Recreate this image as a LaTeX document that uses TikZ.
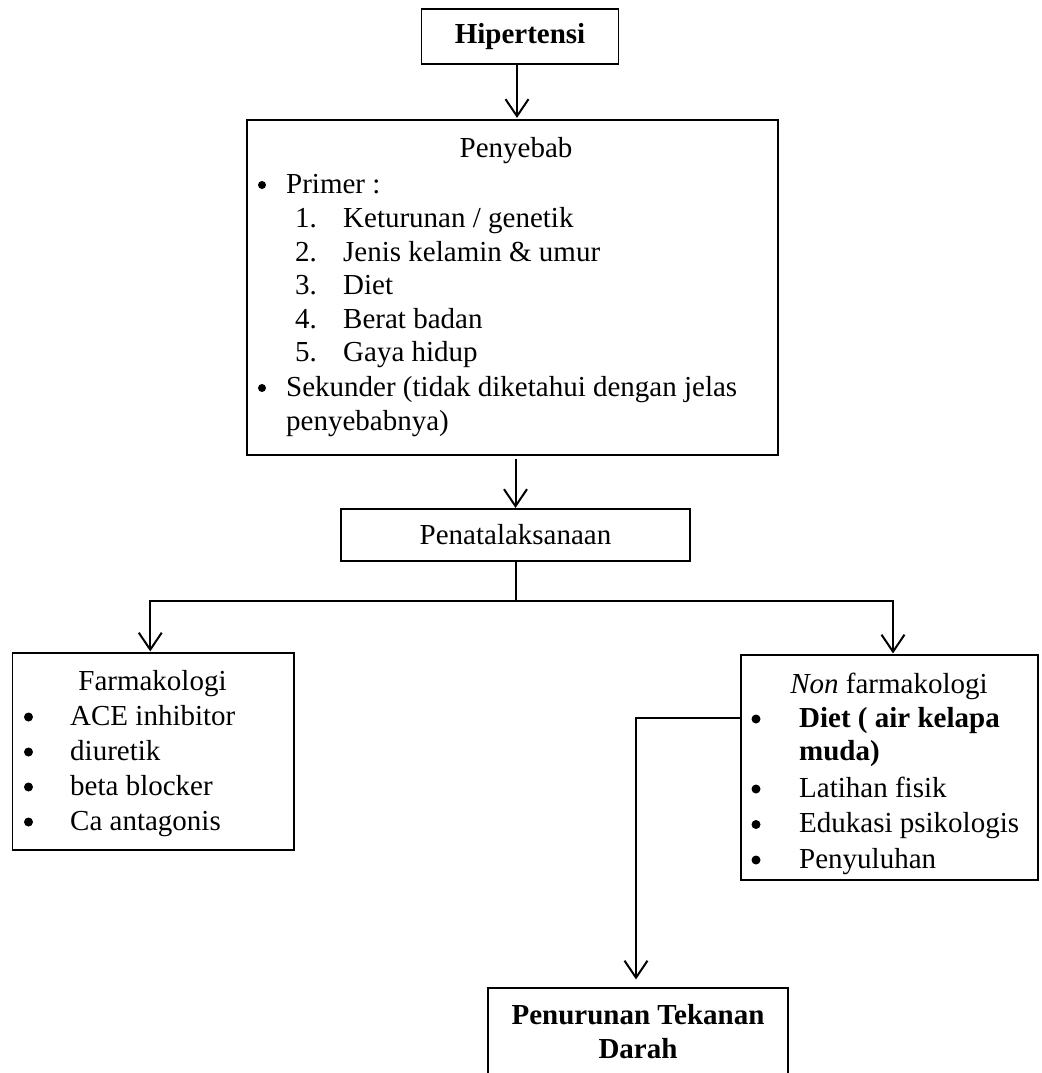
\documentclass[tikz,border=0pt]{standalone}
\usepackage{fontspec}
\setmainfont{Liberation Serif}
\usetikzlibrary{arrows.meta}
\begin{document}
\begin{tikzpicture}[x=1pt,y=-1pt,
  every node/.style={inner sep=0pt, font=\fontsize{29}{33.5}\selectfont},
  box/.style={draw, line width=1.1pt},
  txt/.style={anchor=base west},
  ctxt/.style={anchor=base},
  dot/.style={circle, fill=black, minimum size=9pt, yshift=8pt},
  conn/.style={line width=2pt},
  arr/.style={conn, -{Straight Barb[length=17pt,width=23pt]}}]
\clip (0,0) rectangle (1041,1073);
\fill[white] (0,0) rectangle (1041,1073);
% boxes
\node[box, minimum width=197pt, minimum height=55pt, font=\fontsize{29}{33.5}\selectfont\bfseries] (hip) at (520,36.5) {Hipertensi};
\node[box, minimum width=531pt, minimum height=335pt] (peny) at (512.5,287.5) {};
\node[box, minimum width=349pt, minimum height=52pt] (pena) at (515.5,535) {Penatalaksanaan};
\node[box, minimum width=281.5pt, minimum height=197pt] (farm) at (153.25,751.5) {};
\node[box, minimum width=297pt, minimum height=225pt] (non) at (889.5,767.5) {};
\node[box, minimum width=300pt, minimum height=110pt] (pen) at (638,1043) {};
% Penyebab text
\node[ctxt] (pyt) at (516,157) {Penyebab};
\node[dot, minimum size=8pt] (pb1) at (262,193) {};
\node[txt] (pp) at (286,193) {Primer :};
\node[txt] (n1) at (295,227) {1.};
\node[txt] (i1) at (343,227) {Keturunan / genetik};
\node[txt] (n2) at (295,261) {2.};
\node[txt] (i2) at (343,261) {Jenis kelamin \& umur};
\node[txt] (n3) at (295,294.5) {3.};
\node[txt] (i3) at (343,294.5) {Diet};
\node[txt] (n4) at (295,328) {4.};
\node[txt] (i4) at (343,328) {Berat badan};
\node[txt] (n5) at (295,361.5) {5.};
\node[txt] (i5) at (343,361.5) {Gaya hidup};
\node[dot, minimum size=8pt] (pb2) at (262,396) {};
\node[txt] (ps) at (286,396) {Sekunder (tidak diketahui dengan jelas};
\node[txt] (ps2) at (286,430) {penyebabnya)};
% Farmakologi text
\node[ctxt] (ft) at (152.5,690) {Farmakologi};
\node[dot] (fb1) at (28.5,725) {};
\node[txt] (f1) at (70,725) {ACE inhibitor};
\node[dot] (fb2) at (28.5,760) {};
\node[txt] (f2) at (70,760) {diuretik};
\node[dot] (fb3) at (28.5,795) {};
\node[txt] (f3) at (70,795) {beta blocker};
\node[dot] (fb4) at (28.5,830) {};
\node[txt] (f4) at (70,830) {Ca antagonis};
% Non farmakologi text
\node[ctxt] (nt) at (889,693) {\textit{Non} farmakologi};
\node[dot] (nb1) at (756,727) {};
\node[txt, font=\fontsize{29}{33.5}\selectfont\bfseries] (nf1) at (799,727) {Diet ( air kelapa};
\node[txt, font=\fontsize{29}{33.5}\selectfont\bfseries] (nf1b) at (799,760.5) {muda)};
\node[dot] (nb2) at (756,797) {};
\node[txt] (nf2) at (799,797) {Latihan fisik};
\node[dot] (nb3) at (756,832.5) {};
\node[txt] (nf3) at (799,832.5) {Edukasi psikologis};
\node[dot] (nb4) at (756,868) {};
\node[txt] (nf4) at (799,868) {Penyuluhan};
% Penurunan text
\node[ctxt, font=\fontsize{29}{33.5}\selectfont\bfseries] (pt1) at (638,1024) {Penurunan Tekanan};
\node[ctxt, font=\fontsize{29}{33.5}\selectfont\bfseries] (pt2) at (638,1058) {Darah};
% connectors
\draw[arr, shorten >=1.5pt] ([xshift=-3pt]hip.south) -- ([xshift=-3pt]hip.south |- peny.north);
\draw[arr, shorten <=3pt, shorten >=0.5pt] (peny.south -| pena.north) -- (pena.north);
\coordinate (fork) at (515.5,600.5);
\draw[conn] (pena.south) -- (fork);
\draw[arr, shorten >=1pt] (fork) -| ([xshift=-3pt]farm.north);
\draw[arr, shorten >=1pt] (fork) -| ([xshift=3.5pt]non.north);
\draw[arr, shorten >=8pt] ([yshift=49.5pt]non.west) -| ([xshift=-2pt]pen.north);
\end{tikzpicture}
\end{document}
